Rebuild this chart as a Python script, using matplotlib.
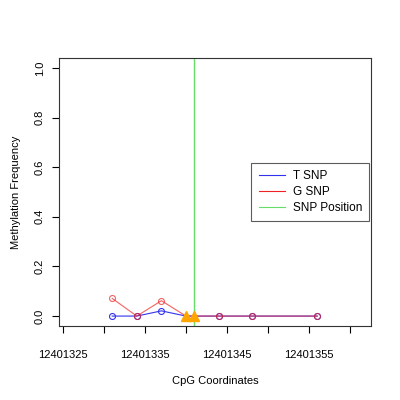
import matplotlib
matplotlib.use("Agg")
import matplotlib.pyplot as plt
from matplotlib.lines import Line2D

plt.rcParams.update({"font.family": ["Liberation Sans", "DejaVu Sans"], "font.size": 8})

# CpG positions and methylation frequencies
t_pos = [12401331, 12401334, 12401337, 12401340, 12401341, 12401344, 12401348, 12401356]
t_val = [0.0, 0.0, 0.021, 0.0, 0.0, 0.0, 0.0, 0.0]
g_pos = [12401331, 12401334, 12401337, 12401340, 12401341, 12401344, 12401348, 12401356]
g_val = [0.071, 0.0, 0.062, 0.0, 0.0, 0.0, 0.0, 0.0]
snp_marks = [12401340, 12401341]
snp_marks_y = [0.0, 0.0]
snp_line = 12401341
x_ticks = [12401325, 12401330, 12401335, 12401340, 12401345, 12401350, 12401355, 12401360]
x_labels = ["12401325", "", "12401335", "", "12401345", "", "12401355", ""]
y_ticks = [0.0, 0.2, 0.4, 0.6, 0.8, 1.0]

BLUE, RED, GREEN, ORANGE = "#3333ee", "#ee2222", "#66dd66", "#ffa500"

fig = plt.figure(figsize=(4, 4), dpi=100)
ax = fig.add_axes([0.1475, 0.185, 0.78, 0.67])

circ_t = [i for i in range(len(t_pos)) if t_pos[i] not in snp_marks]
circ_g = [i for i in range(len(g_pos)) if g_pos[i] not in snp_marks]

ax.plot(t_pos, t_val, color=BLUE, lw=0.8, zorder=2)
ax.plot([t_pos[i] for i in circ_t], [t_val[i] for i in circ_t], "o", mfc="none",
        mec=BLUE, ms=4.3, mew=0.8, zorder=2)
ax.plot(g_pos, g_val, color=RED, lw=0.8, alpha=0.7, zorder=3)
ax.plot([g_pos[i] for i in circ_g], [g_val[i] for i in circ_g], "o", mfc="none",
        mec=RED, ms=4.3, mew=0.8, alpha=0.7, zorder=3)
ax.axvline(snp_line, color=GREEN, lw=1.0, zorder=1)
ax.plot(snp_marks, snp_marks_y, "^", color=ORANGE, ms=7.5, zorder=4)

ax.set_xlim(12401324.51, 12401362.56)
ax.set_ylim(-0.040, 1.040)
ax.set_xticks(x_ticks)
ax.set_xticklabels(x_labels)
ax.set_yticks(y_ticks)
ax.set_yticklabels([f"{v:.1f}" for v in y_ticks], rotation=90, va="center")
ax.tick_params(axis="x", length=5, width=0.8, pad=12)
ax.tick_params(axis="y", length=5, width=0.8, pad=5)
for s in ax.spines.values():
    s.set_linewidth(0.8)
    s.set_color("#333333")

ax.set_xlabel("CpG Coordinates", labelpad=12)
ax.set_ylabel("Methylation Frequency", labelpad=10)

handles = [Line2D([], [], color=BLUE, lw=0.8),
           Line2D([], [], color=RED, lw=0.8),
           Line2D([], [], color=GREEN, lw=0.8)]
leg = ax.legend(handles, ["T SNP", "G SNP", "SNP Position"], loc="center right",
                bbox_to_anchor=(1.0, 0.5), borderaxespad=0.15, frameon=True, fancybox=False,
                edgecolor="#333333", handlelength=2.2, handletextpad=0.7, borderpad=0.6,
                labelspacing=0.35, fontsize=8.5)
leg.get_frame().set_linewidth(0.8)

fig.savefig("out.png", dpi=100)
